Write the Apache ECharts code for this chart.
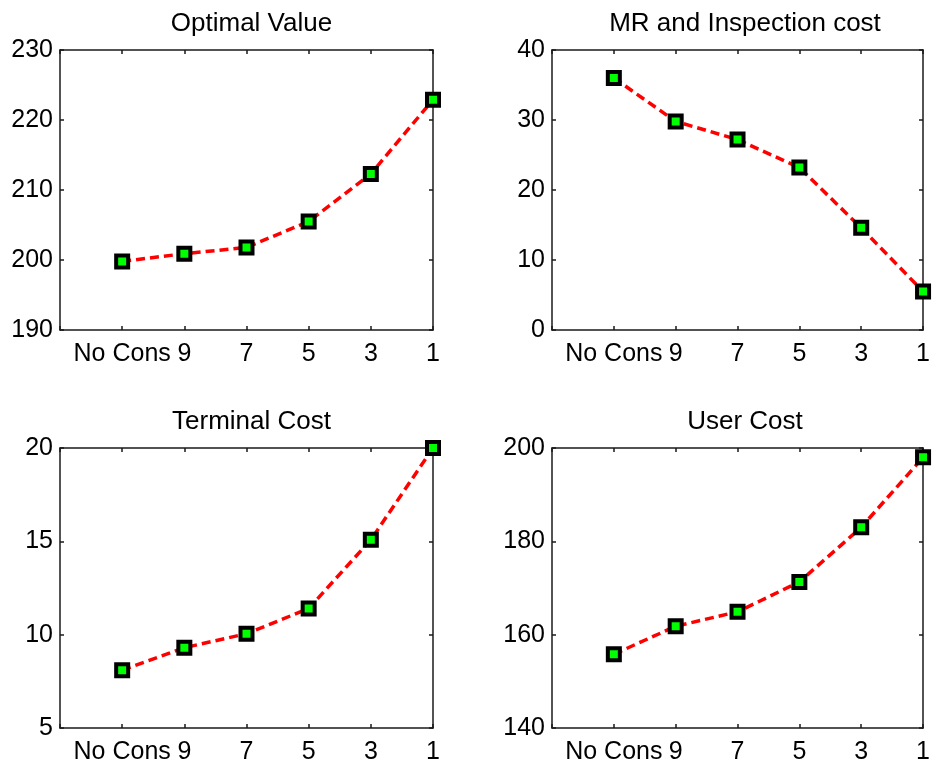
<!DOCTYPE html>
<html>
<head>
<meta charset="utf-8">
<script src="https://cdn.jsdelivr.net/npm/echarts@6/dist/echarts.min.js"></script>
<style>
html,body{margin:0;padding:0;background:#fff;}
#chart{width:933px;height:765px;}
</style>
</head>
<body>
<div id="chart"></div>
<script>
const xLabels = ['No Cons', '9', '7', '5', '3', '1'];
const optimalValue = [199.8, 200.9, 201.8, 205.5, 212.3, 222.9];
const mrInspectionCost = [36.0, 29.8, 27.2, 23.2, 14.6, 5.5];
const terminalCost = [8.1, 9.3, 10.05, 11.4, 15.08, 20.0];
const userCost = [155.8, 161.8, 164.9, 171.3, 183.0, 198.0];
const titles = ['Optimal Value', 'MR and Inspection cost', 'Terminal Cost', 'User Cost'];
const yMin = [190, 0, 5, 140];
const yMax = [230, 40, 20, 200];
const yStep = [10, 10, 5, 20];
const allSeries = [optimalValue, mrInspectionCost, terminalCost, userCost];

const FONT = "'Liberation Sans', Arial, Helvetica, sans-serif";
const AX = '#1a1a1a';
const TICK = 4;
const grids = [
  {left: 60, top: 50, width: 373, height: 280},
  {left: 552, top: 50, width: 376, height: 280},
  {left: 60, top: 448, width: 373, height: 280},
  {left: 552, top: 448, width: 376, height: 280}
];

const option = {
  backgroundColor: '#fff',
  animation: false,
  title: titles.map((t, i) => ({
    text: t,
    left: grids[i].left + grids[i].width / 2,
    top: grids[i].top - 44,
    textAlign: 'center',
    textStyle: {fontFamily: FONT, fontSize: 26, fontWeight: 'normal', color: '#000'}
  })),
  grid: grids.map(g => Object.assign({containLabel: false}, g)),
  xAxis: [],
  yAxis: [],
  series: []
};

grids.forEach((g, i) => {
  const lineStyle = {color: AX, width: 1.5};
  option.xAxis.push({
    type: 'value', gridIndex: i, min: 0, max: 6, interval: 1, position: 'bottom',
    axisLine: {show: true, onZero: false, lineStyle},
    axisTick: {show: true, inside: true, length: TICK, lineStyle},
    splitLine: {show: false},
    axisLabel: {
      show: true, margin: 12, fontFamily: FONT, fontSize: 25, color: '#000',
      showMinLabel: true, showMaxLabel: true,
      formatter: v => (v >= 1 && v <= xLabels.length) ? xLabels[v - 1] : ''
    }
  });
  option.xAxis.push({
    type: 'value', gridIndex: i, min: 0, max: 6, interval: 1, position: 'top',
    axisLine: {show: true, onZero: false, lineStyle},
    axisTick: {show: true, inside: true, length: TICK, lineStyle},
    splitLine: {show: false},
    axisLabel: {show: false}
  });
  option.yAxis.push({
    type: 'value', gridIndex: i, min: yMin[i], max: yMax[i], interval: yStep[i], position: 'left',
    axisLine: {show: true, onZero: false, lineStyle},
    axisTick: {show: true, inside: true, length: TICK, lineStyle},
    splitLine: {show: false},
    axisLabel: {show: true, margin: 7, fontFamily: FONT, fontSize: 25, color: '#000'}
  });
  option.yAxis.push({
    type: 'value', gridIndex: i, min: yMin[i], max: yMax[i], interval: yStep[i], position: 'right',
    axisLine: {show: true, onZero: false, lineStyle},
    axisTick: {show: true, inside: true, length: TICK, lineStyle},
    splitLine: {show: false},
    axisLabel: {show: false}
  });
  option.series.push({
    type: 'line',
    xAxisIndex: i * 2,
    yAxisIndex: i * 2,
    clip: false,
    data: allSeries[i].map((v, k) => [k + 1, v]),
    lineStyle: {color: '#ff0000', width: 3.5, type: [9, 5]},
    symbol: 'rect',
    symbolSize: 12,
    itemStyle: {color: '#00ff00', borderColor: '#000', borderWidth: 4},
    z: 3
  });
});

const chart = echarts.init(document.getElementById('chart'), null, {renderer: 'canvas'});
chart.setOption(option);
</script>
</body>
</html>
